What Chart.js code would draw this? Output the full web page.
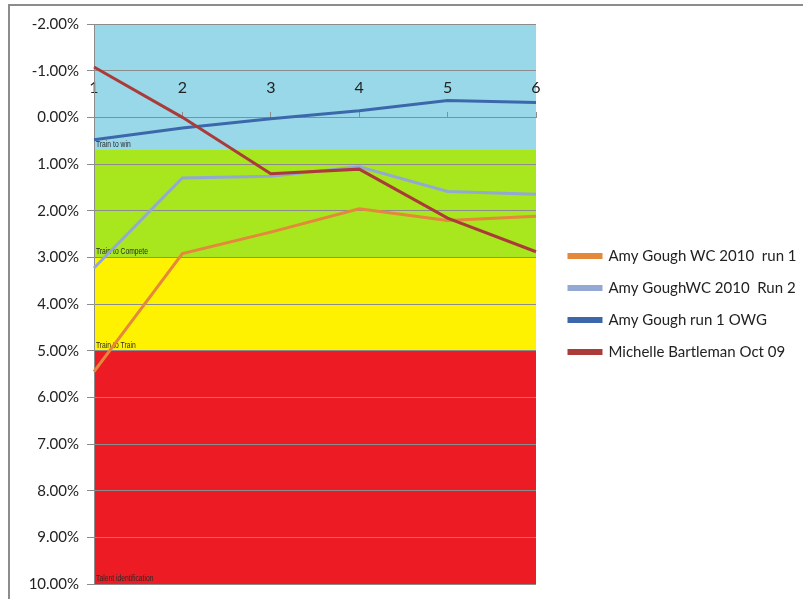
<!DOCTYPE html>
<html>
<head>
<meta charset="utf-8">
<script src="https://cdn.jsdelivr.net/npm/chart.js@4/dist/chart.umd.min.js"></script>
<style>
  body { margin: 0; background: #fff; }
  #marco { position: absolute; left: 8px; top: 4px; width: 820px; height: 620px; border: 2px solid #8c8c8c; }
  #lienzo { position: absolute; left: 0; top: 0; }
</style>
</head>
<body>
<div id="marco"></div>
<canvas id="lienzo" width="803" height="599"></canvas>
<script>
// categorias del eje x (carreras / tramos)
const tramos = ['1', '2', '3', '4', '5', '6']

// valores de cada serie en %
const amyRun1 = [5.45, 2.92, 2.46, 1.96, 2.21, 2.12]
const amyRun2 = [3.23, 1.30, 1.26, 1.06, 1.59, 1.65]
const amyOWG = [0.48, 0.23, 0.03, -0.14, -0.36, -0.32]
const michelle = [-1.08, 0.00, 1.21, 1.11, 2.16, 2.88]

const nombresSeries = ['Amy Gough WC 2010  run 1', 'Amy GoughWC 2010  Run 2', 'Amy Gough run 1 OWG', 'Michelle Bartleman Oct 09']
const coloresSeries = ['#E4883C', '#93A9D3', '#3C68AB', '#AB3B39']

// franjas de fondo (en %)
const franjaDesde = [-2, 0.7, 3, 5]
const franjaHasta = [0.7, 3, 5, 10]
const franjaColor = ['#99D8E8', '#A8E61E', '#FFF200', '#ED1C24']
const franjaTexto = ['Train to win', 'Train to Compete', 'Train to Train', 'Talent identification']

// eje y
const yMin = -2
const yMax = 10
const yPaso = 1

// plugin que pinta las franjas de color detras de la cuadricula
const franjas = {
    id: 'franjas',
    beforeDraw(chart) {
        const { ctx, chartArea, scales } = chart
        const y = scales.y
        ctx.save()
        for (let i = 0; i < franjaDesde.length; i++) {
            const y1 = y.getPixelForValue(franjaDesde[i])
            const y2 = y.getPixelForValue(franjaHasta[i])
            ctx.fillStyle = franjaColor[i]
            ctx.fillRect(chartArea.left, Math.min(y1, y2), chartArea.right - chartArea.left, Math.abs(y2 - y1))
        }
        ctx.restore()
    },
    beforeDatasetsDraw(chart) {
        const { ctx, chartArea, scales } = chart
        const y = scales.y
        ctx.save()
        ctx.font = '9px "Liberation Sans", sans-serif'
        ctx.fillStyle = '#2a2a2a'
        ctx.textBaseline = 'alphabetic'
        for (let i = 0; i < franjaTexto.length; i++) {
            const abajo = y.getPixelForValue(franjaHasta[i])
            //texto angosto como en el original
            ctx.save()
            ctx.translate(chartArea.left + 2, abajo - 3)
            ctx.scale(0.75, 1)
            ctx.fillText(franjaTexto[i], 0, 0)
            ctx.restore()
        }
        ctx.restore()
    }
}

const series = [amyRun1, amyRun2, amyOWG, michelle]
const datasets = series.map(function (datos, i) {
    return {
        label: nombresSeries[i],
        data: datos,
        borderColor: coloresSeries[i],
        backgroundColor: coloresSeries[i],
        borderWidth: 3,
        pointRadius: 0,
        tension: 0,
        order: series.length - i
    }
})

const ctx = document.getElementById('lienzo').getContext('2d')
const chart = new Chart(ctx, {
    type: 'line',
    data: { labels: tramos, datasets: datasets },
    options: {
        responsive: false,
        animation: false,
        layout: { padding: { top: 24, bottom: 15, left: 0, right: 0 } },
        plugins: {
            tooltip: { enabled: false },
            legend: {
                position: 'right',
                maxWidth: 251,
                labels: {
                    boxWidth: 32,
                    boxHeight: 3,
                    padding: 17,
                    color: '#222',
                    font: { family: 'Lato', size: 15 },
                    sort: (a, b) => a.datasetIndex - b.datasetIndex
                }
            }
        },
        scales: {
            x: {
                type: 'category',
                offset: false,
                position: { y: 0 },
                grid: { drawOnChartArea: false, tickLength: -6, color: '#8c8c8c' },
                border: { color: '#8c8c8c' },
                ticks: { color: '#222', padding: -33, font: { family: 'Lato', size: 16 }, maxRotation: 0 }
            },
            y: {
                min: yMin,
                max: yMax,
                reverse: true,
                grid: { color: '#8c8c8c', tickLength: 7 },
                border: { color: '#8c8c8c' },
                ticks: {
                    stepSize: yPaso,
                    padding: 8,
                    color: '#222',
                    font: { family: 'Lato', size: 15 },
                    callback: (v) => v.toFixed(2) + '%'
                },
                afterFit(scale) {
                    scale.width = 94
                    scale.paddingTop = 0
                    scale.paddingBottom = 0
                }
            },
            hueco: {
                position: 'right',
                display: true,
                grid: { display: false },
                border: { display: false },
                ticks: { display: false },
                afterFit(scale) { scale.width = 16 }
            }
        }
    },
    plugins: [franjas]
})
</script>
</body>
</html>
